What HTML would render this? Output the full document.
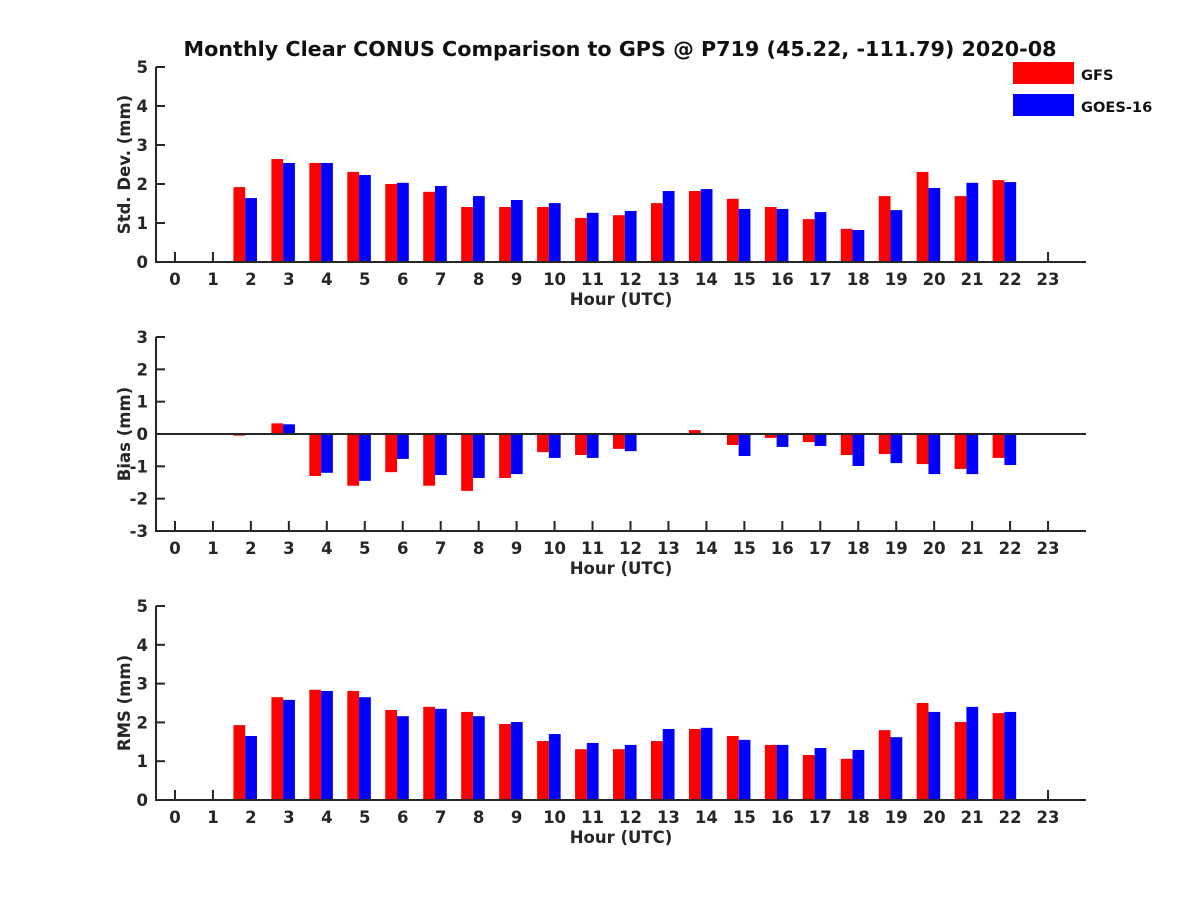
<!DOCTYPE html>
<html><head><meta charset="utf-8"><style>
body{margin:0;background:#fff;}
svg{display:block;font-family:"DejaVu Sans","Liberation Sans",sans-serif;font-weight:bold;}
</style></head><body>
<svg id="chart" width="1200" height="900" viewBox="0 0 1200 900">
<text x="620" y="56" text-anchor="middle" font-size="20.7" fill="#111">Monthly Clear CONUS Comparison to GPS @ P719 (45.22, -111.79) 2020-08</text>
<g>
<rect x="1013" y="62" width="61" height="22" fill="#ff0000"/>
<text x="1081" y="80" font-size="14.6" fill="#111">GFS</text>
<rect x="1013" y="94" width="61" height="22" fill="#0000ff"/>
<text x="1081" y="112" font-size="14.6" fill="#111">GOES-16</text>
</g>
</svg>
<script>
const hours=[0,1,2,3,4,5,6,7,8,9,10,11,12,13,14,15,16,17,18,19,20,21,22,23];
const stdGFS=[null,null,1.92,2.64,2.54,2.31,2.0,1.8,1.41,1.41,1.41,1.13,1.2,1.51,1.82,1.62,1.41,1.1,0.85,1.69,2.31,1.69,2.1,null];
const stdGOES=[null,null,1.64,2.54,2.54,2.23,2.03,1.95,1.69,1.59,1.51,1.26,1.31,1.82,1.87,1.36,1.36,1.28,0.82,1.33,1.9,2.03,2.05,null];
const biasGFS=[null,null,-0.05,0.33,-1.3,-1.6,-1.18,-1.6,-1.76,-1.36,-0.56,-0.65,-0.46,-0.03,0.12,-0.34,-0.12,-0.25,-0.65,-0.62,-0.93,-1.08,-0.74,null];
const biasGOES=[null,null,0.02,0.3,-1.2,-1.45,-0.77,-1.27,-1.36,-1.24,-0.74,-0.74,-0.53,0.0,0.0,-0.68,-0.4,-0.37,-0.99,-0.9,-1.24,-1.24,-0.96,null];
const rmsGFS=[null,null,1.93,2.65,2.84,2.81,2.32,2.4,2.27,1.96,1.52,1.31,1.31,1.52,1.83,1.65,1.42,1.16,1.06,1.8,2.5,2.01,2.24,null];
const rmsGOES=[null,null,1.65,2.58,2.81,2.65,2.16,2.35,2.16,2.01,1.7,1.47,1.42,1.83,1.86,1.55,1.42,1.34,1.29,1.62,2.27,2.4,2.27,null];
const stdTicks=[0,1,2,3,4,5];
const biasTicks=[-3,-2,-1,0,1,2,3];
const rmsTicks=[0,1,2,3,4,5];

const svg=document.getElementById('chart');
const NS='http://www.w3.org/2000/svg';
const AX='#262626';
const FS=16.5;
function mk(tag,attrs){const e=document.createElementNS(NS,tag);for(const k in attrs)e.setAttribute(k,attrs[k]);svg.appendChild(e);return e;}
const x0=156,x1=1086;
const xs=h=>x0+(h+0.5)*(x1-x0)/24.5;

function panel(name,top,bottom,ymin,ymax,ticks,label,gfs,goes,zeroLine){
  const ys=v=>bottom-(v-ymin)*(bottom-top)/(ymax-ymin);
  const base=ys(Math.max(ymin,Math.min(0,ymax)));
  const u=(x1-x0)/24.5;
  ticks.forEach(t=>{
    const y=ys(t);
    const tk=mk('line',{x1:x0,x2:x0+9,y1:y,y2:y,stroke:AX,'stroke-width':2});
    
    
    const tl=mk('text',{x:x0-8,y:y+6,'text-anchor':'end','font-size':FS,fill:'#262626'});
    tl.textContent=t;
    
    
  });
  hours.forEach(h=>{
    const x=xs(h);
    const tk=mk('line',{x1:x,x2:x,y1:bottom,y2:bottom-10,stroke:AX,'stroke-width':2});
    
    
    const tl=mk('text',{x:x,y:bottom+23,'text-anchor':'middle','font-size':FS,fill:'#262626'});
    tl.textContent=h;
    
    
  });
  hours.forEach((h,i)=>{
    if(gfs[i]!==null){
      const v=gfs[i];const y=Math.min(ys(v),base);
      const r=mk('rect',{x:xs(h-0.46),y:y,width:0.31*u,height:Math.abs(ys(v)-base),fill:'#ff0000'});
      
      
    }
    if(goes[i]!==null){
      const v=goes[i];const y=Math.min(ys(v),base);
      const r=mk('rect',{x:xs(h-0.15),y:y,width:0.31*u,height:Math.abs(ys(v)-base),fill:'#0000ff'});
      
      
    }
  });
  if(zeroLine){
    const z=mk('line',{x1:x0,x2:x1,y1:ys(0),y2:ys(0),stroke:AX,'stroke-width':2});
    
    
  }
  const ya=mk('line',{x1:x0,x2:x0,y1:top,y2:bottom+1,stroke:AX,'stroke-width':2});
  
  
  const xa=mk('line',{x1:x0-1,x2:x1,y1:bottom,y2:bottom,stroke:AX,'stroke-width':2});
  
  
  const xl=mk('text',{x:621,y:bottom+43,'text-anchor':'middle','font-size':FS,fill:'#262626'});
  xl.textContent='Hour (UTC)';
  
  
  const cy=(top+bottom)/2;
  const yl=mk('text',{x:0,y:0,'text-anchor':'middle','font-size':FS,fill:'#262626',transform:'translate(130,'+cy+') rotate(-90)'});
  yl.textContent=label;
  
  
}
panel('std',67,262,0,5,stdTicks,'Std. Dev. (mm)',stdGFS,stdGOES,false);
panel('bias',337,531,-3,3,biasTicks,'Bias (mm)',biasGFS,biasGOES,true);
panel('rms',606,800,0,5,rmsTicks,'RMS (mm)',rmsGFS,rmsGOES,false);
</script>
</body></html>
